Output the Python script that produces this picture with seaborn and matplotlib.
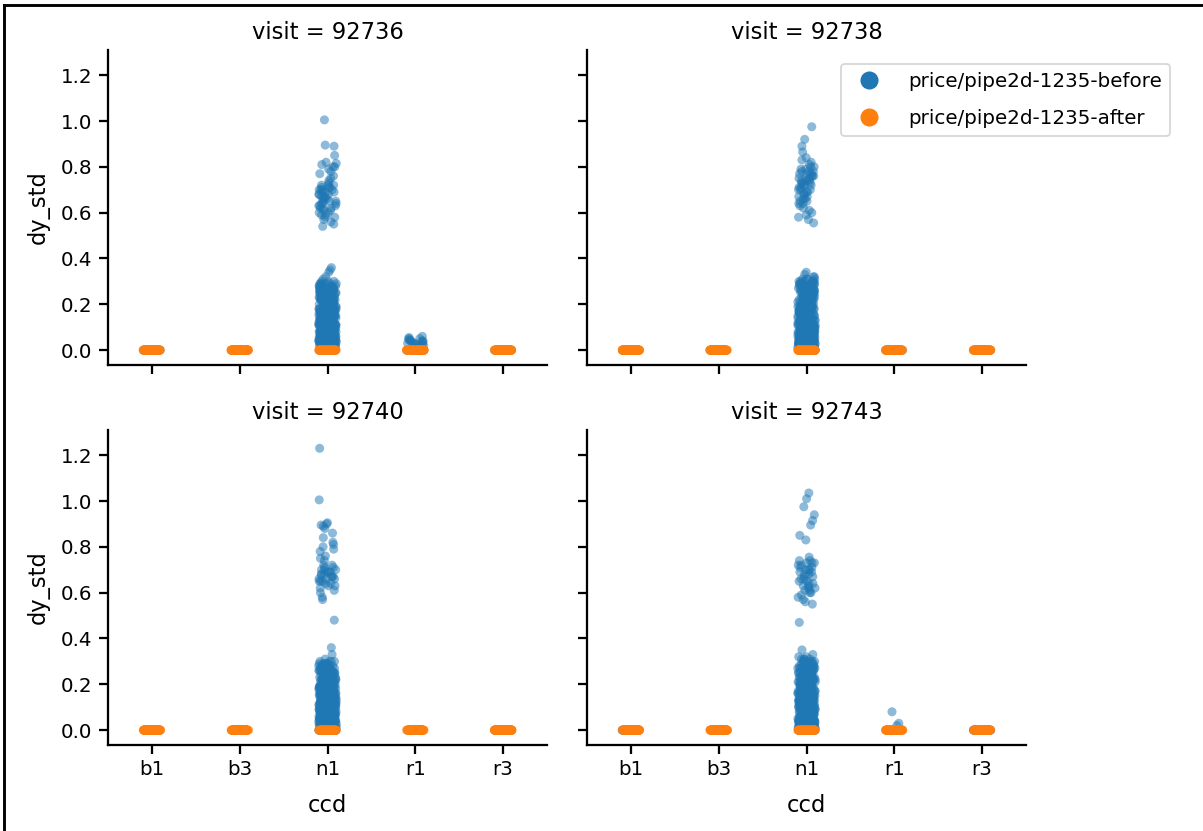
import numpy as np
import pandas as pd
import matplotlib
matplotlib.use("Agg")
import matplotlib.pyplot as plt
from matplotlib.lines import Line2D
import seaborn as sns

# ---------------- data ----------------
VISITS = [92736, 92738, 92740, 92743]
CCDS = ["b1", "b3", "n1", "r1", "r3"]
VERSIONS = ["price/pipe2d-1235-before", "price/pipe2d-1235-after"]
COLORS = ["#1f77b4", "#ff7f0e"]

# number of zero measurements per ccd and version
ZERO_COUNT_BEFORE = 20
ZERO_COUNT_AFTER = 90

# n1 "before": lower dense cluster, value grid and counts per visit
LOW_GRID = [0.00, 0.01, 0.02, 0.03, 0.04, 0.05, 0.06, 0.07, 0.08, 0.09,
            0.10, 0.11, 0.12, 0.13, 0.14, 0.15, 0.16, 0.17, 0.18, 0.19,
            0.20, 0.21, 0.22, 0.23, 0.24, 0.25, 0.26, 0.27, 0.28, 0.29,
            0.30, 0.31, 0.32, 0.33, 0.34, 0.35, 0.36]
LOW_COUNTS_92736 = [30, 24, 22, 20, 20, 18, 18, 17, 16, 16, 15, 14, 14, 13, 13, 12, 12, 12, 11, 11,
                    10, 10, 10, 9, 9, 9, 8, 8, 7, 6, 3, 1, 1, 0, 1, 1, 1]
LOW_COUNTS_92738 = [30, 24, 22, 20, 20, 18, 18, 17, 16, 16, 15, 14, 14, 13, 13, 12, 12, 12, 11, 11,
                    10, 10, 10, 9, 9, 9, 8, 8, 7, 7, 6, 4, 2, 1, 1, 0, 0]
LOW_COUNTS_92740 = [30, 24, 22, 20, 20, 18, 18, 17, 16, 16, 15, 14, 14, 13, 13, 12, 12, 12, 11, 11,
                    10, 10, 10, 9, 9, 9, 8, 8, 7, 6, 4, 1, 0, 1, 0, 0, 1]
LOW_COUNTS_92743 = [30, 24, 22, 20, 20, 18, 18, 17, 16, 16, 15, 14, 14, 13, 13, 12, 12, 12, 11, 11,
                    10, 10, 10, 9, 9, 9, 8, 8, 7, 7, 6, 4, 2, 1, 0, 1, 0]

# n1 "before": upper cluster per visit
HIGH_92736 = [1.005, 0.895, 0.89, 0.85, 0.82, 0.815, 0.81, 0.80, 0.80, 0.79, 0.78,
              0.77, 0.76, 0.75, 0.74, 0.73, 0.72, 0.72, 0.72, 0.71, 0.71, 0.71,
              0.70, 0.70, 0.70, 0.70, 0.69, 0.69, 0.69, 0.68, 0.68, 0.68, 0.67,
              0.67, 0.67, 0.66, 0.66, 0.66, 0.65, 0.65, 0.65, 0.64, 0.64, 0.64,
              0.63, 0.63, 0.63, 0.62, 0.62, 0.62, 0.61, 0.61, 0.60, 0.60, 0.59,
              0.59, 0.58, 0.58, 0.57, 0.56, 0.55, 0.54]
HIGH_92738 = [0.975, 0.92, 0.89, 0.865, 0.84, 0.83, 0.82, 0.81, 0.80, 0.80, 0.79,
              0.79, 0.78, 0.78, 0.78, 0.77, 0.77, 0.77, 0.76, 0.76, 0.76, 0.75,
              0.75, 0.75, 0.74, 0.74, 0.74, 0.73, 0.73, 0.73, 0.72, 0.72, 0.72,
              0.71, 0.71, 0.70, 0.70, 0.70, 0.69, 0.69, 0.68, 0.68, 0.67, 0.67,
              0.66, 0.66, 0.65, 0.65, 0.64, 0.64, 0.63, 0.62, 0.61, 0.60, 0.59,
              0.58, 0.57, 0.555]
HIGH_92740 = [1.23, 1.005, 0.905, 0.90, 0.895, 0.89, 0.88, 0.86, 0.84, 0.82, 0.81,
              0.80, 0.79, 0.78, 0.76, 0.75, 0.74, 0.72, 0.72, 0.71, 0.71, 0.70,
              0.70, 0.70, 0.69, 0.69, 0.69, 0.68, 0.68, 0.68, 0.67, 0.67, 0.67,
              0.66, 0.66, 0.66, 0.65, 0.65, 0.65, 0.64, 0.64, 0.63, 0.63, 0.62,
              0.61, 0.60, 0.58, 0.57, 0.48]
HIGH_92743 = [1.035, 1.01, 0.975, 0.94, 0.915, 0.895, 0.85, 0.83, 0.755, 0.74,
              0.74, 0.73, 0.73, 0.73, 0.72, 0.72, 0.71, 0.71, 0.70, 0.70, 0.70,
              0.69, 0.69, 0.68, 0.68, 0.67, 0.67, 0.66, 0.66, 0.65, 0.65, 0.64,
              0.64, 0.63, 0.63, 0.62, 0.62, 0.61, 0.61, 0.60, 0.60, 0.59, 0.58,
              0.57, 0.56, 0.55, 0.47]

# r1 "before" small non-zero values
R1_92736 = [0.06, 0.055, 0.05, 0.05, 0.045, 0.045, 0.04, 0.04, 0.04, 0.035, 0.035,
            0.03, 0.03, 0.03, 0.025, 0.025, 0.02, 0.02, 0.015, 0.01]
R1_92743 = [0.08, 0.03, 0.02]

LOW_COUNTS = {92736: LOW_COUNTS_92736, 92738: LOW_COUNTS_92738,
              92740: LOW_COUNTS_92740, 92743: LOW_COUNTS_92743}
HIGH = {92736: HIGH_92736, 92738: HIGH_92738, 92740: HIGH_92740, 92743: HIGH_92743}
R1 = {92736: R1_92736, 92738: [], 92740: [], 92743: R1_92743}

before_rows, after_rows = [], []
for v in VISITS:
    for c in CCDS:
        if c == "n1":
            vals = list(np.repeat(LOW_GRID, LOW_COUNTS[v])) + HIGH[v]
        elif c == "r1" and R1[v]:
            vals = R1[v]
        else:
            vals = [0.0] * ZERO_COUNT_BEFORE
        before_rows += [(v, c, VERSIONS[0], y) for y in vals]
        after_rows += [(v, c, VERSIONS[1], 0.0) for _ in range(ZERO_COUNT_AFTER)]
df = pd.DataFrame(before_rows + after_rows,
                  columns=["visit", "ccd", "version", "dy_std"])

# ---------------- plot ----------------
DPI = 130
plt.rcParams.update({
    "axes.linewidth": 1.25,
    "xtick.major.width": 1.25,
    "ytick.major.width": 1.25,
    "xtick.major.size": 5,
    "ytick.major.size": 5,
    "xtick.labelsize": 11,
    "ytick.labelsize": 11,
    "axes.labelsize": 12.5,
})
np.random.seed(7)
g = sns.catplot(data=df, x="ccd", y="dy_std", hue="version", col="visit",
                col_wrap=2, kind="strip", order=CCDS, hue_order=VERSIONS,
                palette=COLORS, alpha=0.5, legend=False, height=3, aspect=1.4)
fig = g.figure
fig.set_size_inches(1203 / DPI, 831 / DPI)
fig.set_dpi(DPI)
g.set(ylim=(-0.065, 1.31))
g.set_titles("visit = {col_name}", size=12.5)
g.set_axis_labels("ccd", "dy_std")
for ax in g.axes.flat:
    ax.xaxis.labelpad = 8
    ax.yaxis.labelpad = 6
fig.subplots_adjust(left=108 / 1203, right=1026 / 1203,
                    top=1 - 50 / 831, bottom=1 - 745 / 831,
                    wspace=40 / 439, hspace=65 / 315)

handles = [Line2D([], [], marker="o", linestyle="", markersize=9,
                  markerfacecolor=col, markeredgecolor=col) for col in COLORS]
fig.legend(handles, VERSIONS, loc="upper right",
           bbox_to_anchor=(1180 / 1203, 1 - 54 / 831), frameon=True,
           fontsize=11, labelspacing=0.9, handletextpad=1.0)

# outer frame of the picture (left and top edges)
fig.add_artist(Line2D([4 / 1203, 4 / 1203], [0, 1 - 5 / 831],
                      transform=fig.transFigure, color="black", linewidth=1.6))
fig.add_artist(Line2D([4 / 1203, 1], [1 - 5 / 831, 1 - 5 / 831],
                      transform=fig.transFigure, color="black", linewidth=1.6))

fig.savefig("out.png", dpi=DPI)
